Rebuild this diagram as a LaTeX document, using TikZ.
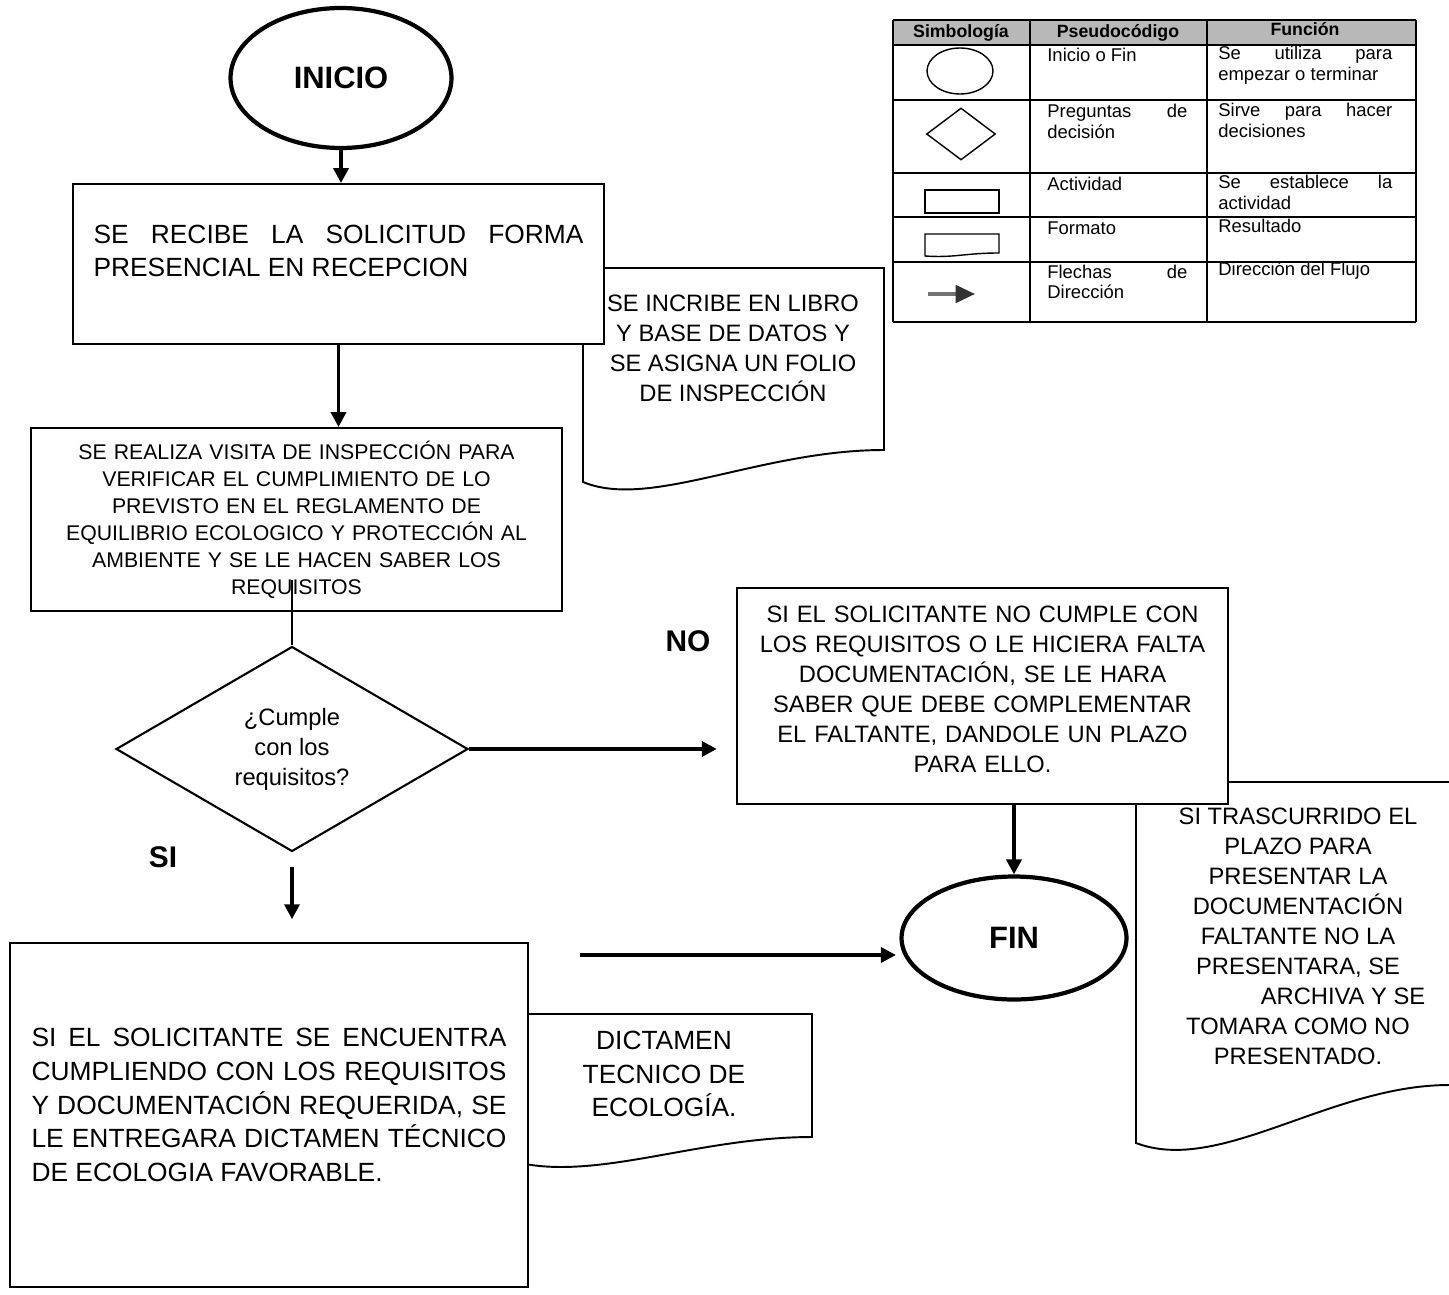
\documentclass[tikz,border=0pt]{standalone}
\usepackage{fontspec}
\setmainfont{Liberation Sans}
\usetikzlibrary{positioning, shapes.geometric, arrows.meta}
\hyphenpenalty=10000
\exhyphenpenalty=10000

\begin{document}
\begin{tikzpicture}[
        x=0.02cm, y=-0.02cm,
        proc/.style={rectangle, draw=black, line width=1.1pt, fill=white, inner sep=0pt},
        term/.style={ellipse, draw=black, line width=2.4pt, fill=white, inner sep=0pt, font=\bfseries\fontsize{17.6}{20}\selectfont},
        decision/.style={diamond, aspect=1.7, draw=black, line width=1.2pt, inner sep=0pt, minimum width=7.04cm, minimum height=4.1cm, align=center, font=\fontsize{13.5}{17.1}\selectfont},
        docshape/.style={draw=black, line width=1.1pt, fill=white},
        bigtext/.style={font=\fontsize{15}{19.1}\selectfont},
        midtext/.style={font=\fontsize{13.5}{17.1}\selectfont},
        smalltext/.style={font=\fontsize{12.1}{15.4}\selectfont},
        answer/.style={font=\bfseries\fontsize{17}{20}\selectfont},
        legtext/.style={font=\fontsize{10.5}{11.4}\selectfont, inner sep=0pt, anchor=base west, align=justify},
        leghead/.style={font=\bfseries\fontsize{10.1}{12}\selectfont, inner sep=0pt, anchor=base},
        arrow/.style={-{Triangle[length=8.5pt, width=8.5pt]}, line width=2pt}
        ]

        \useasboundingbox (0,0) rectangle (1449,1294);

        \draw[docshape] (884,450) -- (884,268) -- (583,268) -- (583,482) .. controls (650,510) and (760,450) .. (884,450) -- cycle;
        \draw[docshape] (1136,782) -- (1480,782) -- (1480,1085) -- (1449,1085) .. controls (1330,1085) and (1220,1175) .. (1136,1143) -- cycle;
        \draw[docshape] (520,1014) -- (812,1014) -- (812,1137) .. controls (700,1137) and (600,1180) .. (520,1163) -- cycle;

        \node[term, minimum width=4.42cm, minimum height=2.8cm] (inicio) at (341,78) {INICIO};
        \node[proc, bigtext, minimum width=10.62cm, minimum height=3.2cm, text width=9.8cm, align=justify] (recibe) at (338.5,264) {SE RECIBE LA SOLICITUD FORMA\linebreak PRESENCIAL EN RECEPCION\par\nointerlineskip\rule{0pt}{0.52cm}};
        \node[midtext, align=center] (folio) at (733,348) {SE INCRIBE EN LIBRO\\Y BASE DE DATOS Y\\SE ASIGNA UN FOLIO\\DE INSPECCIÓN};
        \node[proc, smalltext, minimum width=10.62cm, minimum height=3.66cm, text width=10.2cm, align=center] (visita) at (296.5,519.5) {SE REALIZA VISITA DE INSPECCIÓN PARA\\VERIFICAR EL CUMPLIMIENTO DE LO\\PREVISTO EN EL REGLAMENTO DE\\EQUILIBRIO ECOLOGICO Y PROTECCIÓN AL\\AMBIENTE Y SE LE HACEN SABER LOS\\REQUISITOS};
        \node[decision] (cumple) at (292,749) {¿Cumple\\con los\\requisitos?};
        \node[answer] (nolabel) at (688,641) {NO};
        \node[answer] (silabel) at (163,857) {SI};
        \node[proc, midtext, minimum width=9.82cm, minimum height=4.32cm, text width=9.4cm, align=center] (falta) at (982.5,696) {SI EL SOLICITANTE NO CUMPLE CON\\LOS REQUISITOS O LE HICIERA FALTA\\DOCUMENTACIÓN, SE LE HARA\\SABER QUE DEBE COMPLEMENTAR\\EL FALTANTE, DANDOLE UN PLAZO\\PARA ELLO.\par\nointerlineskip\rule{0pt}{0.28cm}};
        \node[midtext, align=center] (archiva) at (1298,936) {SI TRASCURRIDO EL\\PLAZO PARA\\PRESENTAR LA\\DOCUMENTACIÓN\\FALTANTE NO LA\\PRESENTARA, SE\\\hspace*{1.8cm}ARCHIVA Y SE\\TOMARA COMO NO\\PRESENTADO.};
        \node[term, minimum width=4.5cm, minimum height=2.46cm] (fin) at (1014,938) {FIN};
        \node[proc, bigtext, minimum width=10.36cm, minimum height=6.88cm, text width=9.5cm, align=justify] (entrega) at (269,1115) {SI EL SOLICITANTE SE ENCUENTRA\linebreak CUMPLIENDO CON LOS REQUISITOS\linebreak Y DOCUMENTACIÓN REQUERIDA, SE\linebreak LE ENTREGARA DICTAMEN TÉCNICO\linebreak DE ECOLOGIA FAVORABLE.\par\nointerlineskip\rule{0pt}{0.4cm}};
        \node[bigtext, align=center] (dictamen) at (664,1074) {DICTAMEN\\TECNICO DE\\ECOLOGÍA.};

        \coordinate (visitaline) at (292,580);
        \coordinate (dictamenline) at (580,955);

        \draw[arrow] (inicio.south) -- (inicio.south |- recibe.north);
        \draw[arrow] (recibe.south) -- (recibe.south |- visita.north);
        \draw[line width=1.7pt] (visitaline) -- (cumple.north);
        \draw[arrow, shorten >=11pt] (cumple.east) -- (cumple.east -| falta.west);
        \draw[arrow, shorten <=8pt, shorten >=13pt] (cumple.south) -- (cumple.south |- entrega.north);
        \draw[arrow] (fin.north |- falta.south) -- (fin.north);
        \draw[arrow, shorten >=2pt] (dictamenline) -- (dictamenline -| fin.west);

        \fill[black!28] (893,20) rectangle (1416,45);
        \foreach \y in {20,45,100,173,217,262,322}
            \draw[line width=0.9pt] (893,\y) -- (1416,\y);
        \foreach \x in {893,1030,1207,1416}
            \draw[line width=0.9pt] (\x,20) -- (\x,322);

        \node[leghead] (hsimbolo) at (961,38) {Simbología};
        \node[leghead] (hpseudo) at (1118,38) {Pseudocódigo};
        \node[leghead] (hfuncion) at (1305,36) {Función};

        \node[ellipse, draw, line width=0.8pt, minimum width=1.32cm, minimum height=0.92cm, inner sep=0pt] (symterm) at (960,71) {};
        \node[diamond, draw, line width=0.8pt, minimum width=1.38cm, minimum height=1.04cm, inner sep=0pt] (symdecision) at (961,134) {};
        \node[rectangle, draw, line width=0.8pt, minimum width=1.48cm, minimum height=0.46cm, inner sep=0pt] (symproc) at (962,201.5) {};
        \draw[line width=0.8pt] (925,234) -- (999,234) -- (999,253) .. controls (965,253) and (955,258) .. (925,256) -- cycle;
        \coordinate (symtail) at (928,294);
        \coordinate (symhead) at (975,294);
        \draw[black!55, line width=1.8pt, -{Triangle[length=11pt, width=10pt, color=black!80]}] (symtail) -- (symhead);

        \node[legtext] (pinicio) at (1047,62) {Inicio o Fin};
        \node[legtext, text width=3.48cm] (finicio) at (1218,60) {Se utiliza para\linebreak empezar o terminar};
        \node[legtext, text width=2.8cm] (ppregunta) at (1047,118) {Preguntas de\linebreak decisión};
        \node[legtext, text width=3.48cm] (fpregunta) at (1218,117) {Sirve para hacer\linebreak decisiones};
        \node[legtext] (pactividad) at (1047,191) {Actividad};
        \node[legtext, text width=3.48cm] (factividad) at (1218,189) {Se establece la\linebreak actividad};
        \node[legtext] (pformato) at (1047,235) {Formato};
        \node[legtext] (fformato) at (1218,233) {Resultado};
        \node[legtext, text width=2.8cm] (pflecha) at (1047,278) {Flechas de\linebreak Dirección};
        \node[legtext] (fflecha) at (1218,275) {Dirección del Flujo};
    \end{tikzpicture}
\end{document}
